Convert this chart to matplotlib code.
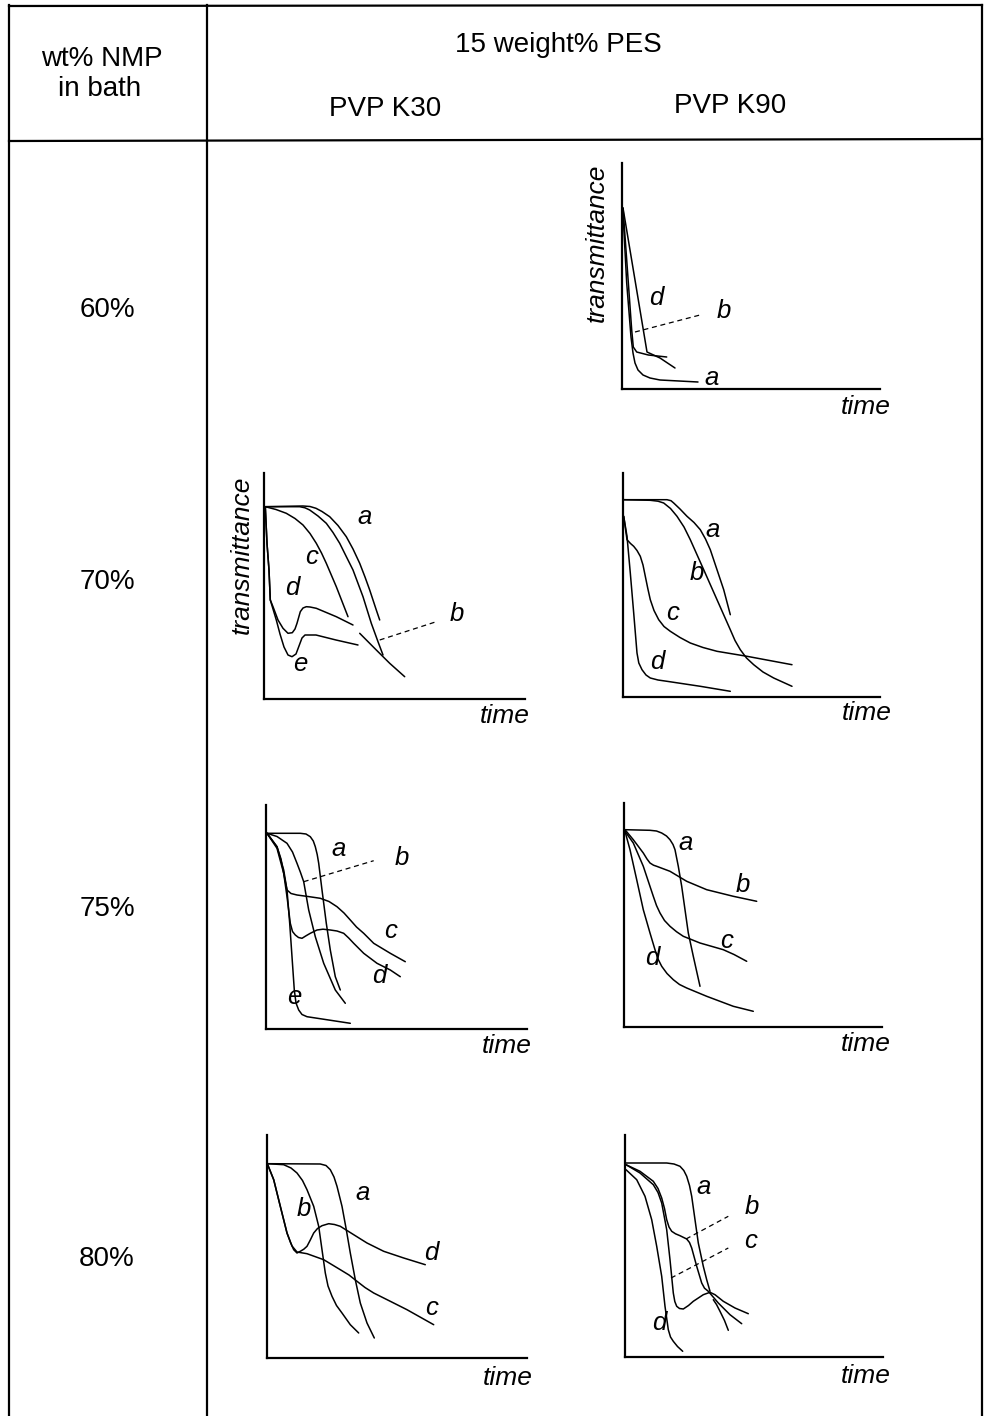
import matplotlib
matplotlib.use("Agg")
import matplotlib.pyplot as plt

plt.rcParams["font.family"] = ["Liberation Sans", "DejaVu Sans"]

W, H = 987, 1416

# ---- table text ----
HEADER_TOP = "15 weight% PES"
COL_LABELS = ["PVP K30", "PVP K90"]
ROW_HEADER = ["wt% NMP", "in bath"]
ROW_LABELS = ["60%", "70%", "75%", "80%"]

# ---- curves, (time, transmittance) in arbitrary units ----
K90_60 = {
    "a": [(0.7, 181), (4.7, 106), (9, 52), (11, 36), (13, 26), (16, 19), (21, 14),
          (28, 11), (38, 9), (76, 7)],
    "b": [(1, 181), (9.7, 59), (11.3, 42), (14.7, 37), (26.3, 34), (44.7, 32)],
    "d": [(1, 181), (25, 37), (38, 31), (53, 21)],
}
K90_60_PTR = {"b": [(13, 57), (78, 74)]}

K30_70 = {
    "a": [(1.3, 192.3), (39, 193), (46, 192.5), (52, 190.7), (58, 187.5),
          (65.7, 182.3), (74, 173.5), (82.3, 162.3), (89, 150), (95.7, 135.7),
          (101, 122), (105.7, 109), (112.3, 89), (115.7, 79)],
    "b": [(1.3, 192.3), (35.7, 192.3), (41, 191.2), (45.7, 189), (54, 183),
          (62.3, 175.7), (69, 166.5), (75.7, 155.7), (82, 143), (89, 129),
          (99, 102.3), (107.3, 75.7), (114, 57.3), (119, 44)],
    "c": [(1.3, 192.3), (12, 189.5), (22.3, 185.7), (31, 180.5), (39, 174),
          (46, 165.5), (52.3, 155.7), (57.5, 146), (62.3, 135.7), (72.3, 112.3),
          (84, 82.3)],
    "d": [(1.3, 192.3), (3, 155.7), (5, 129), (6.3, 99), (9, 92.3), (14, 79),
          (19, 70.7), (24, 65.7), (28.3, 66.3), (31, 70), (33, 75.7), (36.3, 87.3),
          (39, 91), (42.3, 92.3), (46, 92), (52.3, 90.7), (72.3, 82.3), (89, 74)],
    "d2": [(95.7, 65.7), (112.3, 49), (125.7, 35.7), (140.7, 22.3)],
    "e": [(1.3, 192.3), (3, 155.7), (5, 129), (6.3, 99), (9, 90), (12.3, 79),
          (16, 65), (20, 52), (24, 44), (28, 42.3), (32, 45), (35, 53), (38, 61),
          (41, 64), (52, 64), (72, 59), (94, 54)],
}
K30_70_PTR = {"b": [(115.7, 59), (172.3, 77.3)]}

K90_70 = {
    "a": [(0.7, 197.3), (44, 197.3), (48, 196.3), (50.7, 194), (57, 188),
          (64, 180.7), (71, 174.5), (77.3, 167.3), (82.5, 158), (87.3, 147.3),
          (94, 127.3), (100.7, 107.3), (107.3, 82.3)],
    "b": [(0.7, 197.3), (27.3, 196.7), (35, 195.8), (40.7, 194), (47.5, 188.5),
          (54, 180.7), (61, 170), (67.3, 157.3), (80.7, 127.3), (94, 97.3),
          (107.3, 67.3), (112, 56.5), (117.3, 47.3), (123.5, 39), (130.7, 32.3),
          (140, 25), (150.7, 19), (169, 10.7)],
    "c": [(0.7, 180.7), (4, 157.3), (7.5, 153.5), (10.7, 150.7), (14, 146.5),
          (17.3, 140.7), (20, 132), (22.3, 120.7), (24.8, 108.5), (27.3, 97.3),
          (31, 86.5), (35.7, 77.3), (41, 70.5), (47.3, 65.7), (57, 59.5),
          (67.3, 54), (80, 49.5), (94, 45.7), (124, 40.7), (169, 32.3)],
    "d": [(0.7, 180.7), (4, 160.7), (7.3, 124), (10.7, 84), (14, 44), (15.8, 34),
          (19, 27.3), (23, 22), (27.3, 19), (35, 17), (44, 15.7), (77.3, 10.7),
          (107.3, 5.7)],
}

K30_75 = {
    "a": [(1, 195.7), (34.3, 195.7), (40, 195), (44.3, 192.3), (47.3, 188),
          (49.3, 182.3), (51.2, 174.5), (52.7, 165.7), (56, 139), (60.3, 105.7),
          (64.3, 79), (69.3, 52.3), (74.3, 39)],
    "b": [(1, 195.7), (11, 192.5), (21, 185.7), (26.5, 177), (31, 165.7),
          (34.5, 156.5), (37.7, 147.3), (42.7, 119), (49.3, 92.3), (57.7, 65.7),
          (69.3, 39), (79.3, 25.7)],
    "c": [(1, 195.7), (11, 182.3), (15, 170), (17.7, 155.7), (21, 139),
          (25, 135.5), (31, 134), (42, 132.5), (54.3, 130.7), (63, 127.5),
          (71, 122.3), (78, 116), (84.3, 109), (90.5, 102), (97.7, 95.7),
          (107.7, 85.7), (124.3, 75.7), (139.3, 67.3)],
    "d": [(1, 195.7), (11, 180.7), (17.7, 155.7), (21, 132.3), (24.3, 105.7),
          (26.5, 97.5), (29.3, 94), (32.5, 91.5), (36, 90.7), (40, 93.2),
          (44.3, 95.7), (51, 99), (57, 99.8), (64.3, 99), (71, 98), (77.7, 95.7),
          (82.7, 91), (87.7, 85.7), (97.7, 75.7), (111, 65.7), (124.3, 59),
          (134.3, 52.3)],
    "e": [(1, 195.7), (11, 182.3), (17.7, 159), (21, 139), (23.7, 105.7),
          (26, 72.3), (28.3, 39), (30, 26), (32.7, 19), (36, 14.5), (41, 12.3),
          (84.3, 5.7)],
}
K30_75_PTR = {"b": [(37.7, 147.3), (107.7, 168.3)]}

K90_75 = {
    "a": [(1, 197.3), (26, 196.7), (32.5, 196), (37.7, 194), (42.5, 191),
          (46, 187.3), (49, 182.5), (51, 177.3), (54.3, 160.7), (57.7, 140.7),
          (61, 117.3), (64.3, 94), (69.3, 70.7), (76, 40.7)],
    "b": [(1, 197.3), (9.3, 187.3), (19.3, 174), (23, 168), (26, 164),
          (29.5, 161.8), (32.7, 160.7), (46, 155.7), (62.7, 145.7), (82.7, 137.3),
          (109.3, 130.7), (132.7, 125.7)],
    "c": [(1, 195.7), (9.3, 184), (19.3, 160.7), (29.3, 130.7), (32.5, 121.5),
          (36, 114), (40.5, 106.5), (46, 100.7), (52.5, 95.3), (59.3, 90.7),
          (76, 84), (99.3, 77.3), (110, 72.5), (122.7, 65.7)],
    "d": [(1, 195.7), (6, 177.3), (12.7, 147.3), (19.3, 117.3), (26, 94),
          (31, 77.3), (34, 68), (37.7, 60.7), (43, 53.5), (49.3, 47.3),
          (55.5, 42.5), (62.7, 39), (82.7, 30.7), (109.3, 20.7), (129.3, 15.7)],
}

K30_80 = {
    "a": [(0.7, 194.3), (53.3, 194), (59, 192.5), (63.3, 188.3), (67, 181),
          (70, 171.7), (75, 151.7), (79.3, 128.3), (83.3, 105), (88.3, 78.3),
          (93.3, 55), (100, 35), (107.3, 20)],
    "b": [(0.7, 194.3), (16.7, 193.3), (24, 190), (30, 185), (35.5, 177.5),
          (40, 168.3), (46.7, 151.7), (51.7, 131.7), (55, 108.3), (58.3, 85),
          (61, 72), (65, 61.7), (69.5, 52.5), (75, 45), (83.3, 33.3), (91.7, 25)],
    "c": [(0.7, 193.3), (6.7, 178.3), (13.3, 151.7), (20, 125), (25, 112),
          (30, 106), (40, 104.3), (56.7, 98.3), (73.3, 88.3), (82, 83),
          (90, 76.7), (98, 70.5), (106.7, 65), (123.3, 56.7), (140, 48.3),
          (166.7, 33.3)],
    "d": [(0.7, 193.3), (6.7, 178.3), (13.3, 151.7), (20, 125), (23.5, 115.5),
          (26.7, 108.3), (30, 105), (33.3, 106.7), (36.8, 108.8), (40, 111.7),
          (43.3, 118), (46.7, 125), (50.5, 129.5), (55, 132.3), (61.7, 134.3),
          (67.5, 133.5), (73.3, 131.7), (86.7, 123.3), (100, 115), (116.7, 106.7),
          (136.7, 100), (158.3, 93.3)],
}

K90_80 = {
    "a": [(1, 194), (41.7, 194), (49, 193), (55, 190.7), (58.8, 186.5),
          (61.7, 180.7), (64.5, 171.5), (66.7, 160.7), (70, 137.3), (73.3, 114),
          (78.3, 90.7), (81.7, 77.3), (85, 65.7)],
    "a2": [(88.3, 57.3), (91.5, 52.5), (95, 45.7), (99.5, 36.5), (103.3, 26.7)],
    "b": [(1, 192.3), (15, 185.7), (28.3, 175.7), (33, 168.5), (36.7, 159),
          (39.5, 148.5), (41.7, 137.3), (44, 130), (46.7, 125.7), (50.5, 123.2),
          (55, 121.3), (61.7, 118), (64.5, 114.5), (66.7, 109), (71.7, 90.7),
          (76.7, 74), (79.5, 68.8), (83.3, 65.7), (93.3, 54), (105, 42.3),
          (116.7, 33.3)],
    "c": [(1, 192.3), (15, 184), (28.3, 172.3), (33, 164.5), (36.7, 154),
          (41.7, 127.3), (45, 97.3), (48.3, 64), (49.8, 55.5), (51.7, 50.7),
          (54.5, 48.5), (58.3, 48), (63.5, 51.5), (68.3, 55.7), (78.3, 62.3),
          (85, 64.7), (90, 62.3), (98.3, 55.7), (110, 49), (123.3, 43.3)],
    "d": [(1, 187.3), (11.7, 177.3), (20, 160.7), (26.7, 137.3), (31.7, 110.7),
          (36.7, 80.7), (40, 50.7), (43.3, 27.3), (45.5, 20), (48.3, 15.7),
          (52.5, 10.5), (57.7, 5.7)],
}
K90_80_PTR = {"b": [(61, 118), (103.3, 140.7)], "c": [(46, 79), (103.3, 109)]}


# ================================
# layout: panel boxes in pixels (origin x, origin y, width, height)
# ================================
panels = [
    # curves, pointers, box, letter positions, time pos, ylabel pos
    (K90_60, K90_60_PTR, (622, 389, 258, 226),
     {"a": (90, 11), "b": (102, 78), "d": (34.7, 90.7)}, (244, -18), (-25, 146)),
    (K30_70, K30_70_PTR, (264, 699, 261, 226),
     {"a": (100.7, 182), "b": (192.7, 85), "c": (47.7, 142), "d": (28.7, 111),
      "e": (36.7, 35)}, (240.7, -17), (-22.3, 144)),
    (K90_70, {}, (623, 697, 257, 224),
     {"a": (89.3, 167), "b": (74.3, 124), "c": (49.3, 84), "d": (34.3, 35)},
     (243.3, -16), None),
    (K30_75, K30_75_PTR, (266, 1029, 261, 224),
     {"a": (72.3, 180), "b": (136.3, 171), "c": (124.3, 98), "d": (113.3, 53),
      "e": (28.3, 32)}, (240.3, -17), None),
    (K90_75, {}, (624, 1027, 258, 224),
     {"a": (62, 184), "b": (119, 142), "c": (103, 86), "d": (28, 69)},
     (242, -17), None),
    (K30_80, {}, (267, 1358, 260, 223),
     {"a": (95.3, 165), "b": (37.3, 149), "d": (164.3, 105), "c": (164.3, 50)},
     (240.3, -20), None),
    (K90_80, K90_80_PTR, (625, 1357, 258, 222),
     {"a": (79, 170), "b": (127, 150), "c": (126, 116), "d": (34, 34)},
     (241, -19), None),
]

fig = plt.figure(figsize=(W / 100, H / 100), dpi=100)

# -------- table frame and headers --------
bg = fig.add_axes([0, 0, 1, 1], zorder=0)
bg.set_xlim(0, W)
bg.set_ylim(H, 0)
bg.axis("off")

LW = 1.6
bg.plot([9, 982], [6, 5], color="black", lw=LW)
bg.plot([9, 982], [141, 139], color="black", lw=LW)
for xv in (9, 207, 982):
    bg.plot([xv, xv], [5, H], color="black", lw=LW)

bg.text(558, 52, HEADER_TOP, fontsize=20, ha="center", va="baseline")
bg.text(385, 116, COL_LABELS[0], fontsize=20, ha="center", va="baseline")
bg.text(730, 113, COL_LABELS[1], fontsize=20, ha="center", va="baseline")
bg.text(102, 66, ROW_HEADER[0], fontsize=20, ha="center", va="baseline")
bg.text(100, 96, ROW_HEADER[1], fontsize=20, ha="center", va="baseline")
for lab, yb in zip(ROW_LABELS, (317, 589, 916, 1266)):
    bg.text(107, yb, lab, fontsize=20, ha="center", va="baseline")

# -------- the little sketches --------
for curves, ptrs, box, letters, tpos, ypos in panels:
    x0, y0, w, h = box
    ax = fig.add_axes([x0 / W, (H - y0) / H, w / W, h / H], zorder=2)
    ax.set_xlim(0, w)
    ax.set_ylim(0, h)
    ax.patch.set_alpha(0)
    for s in ("top", "right"):
        ax.spines[s].set_visible(False)
    for s in ("left", "bottom"):
        ax.spines[s].set_linewidth(1.6)
    ax.set_xticks([])
    ax.set_yticks([])

    for key, pts in curves.items():
        ax.plot([p[0] for p in pts], [p[1] for p in pts], color="black", lw=1.1,
                solid_joinstyle="round", solid_capstyle="round")
    for key, pts in ptrs.items():
        ax.plot([p[0] for p in pts], [p[1] for p in pts], color="black", lw=0.9,
                dashes=(4, 3))
    for lab, (tx, ty) in letters.items():
        ax.text(tx, ty, lab, fontsize=18.5, style="italic", ha="center", va="center")

    ax.text(tpos[0], tpos[1], "time", fontsize=19, style="italic",
            ha="center", va="center", clip_on=False)
    if ypos is not None:
        ax.text(ypos[0], ypos[1], "transmittance", fontsize=19, style="italic",
                rotation=90, ha="center", va="center", clip_on=False)

fig.savefig("out.png", dpi=100)
